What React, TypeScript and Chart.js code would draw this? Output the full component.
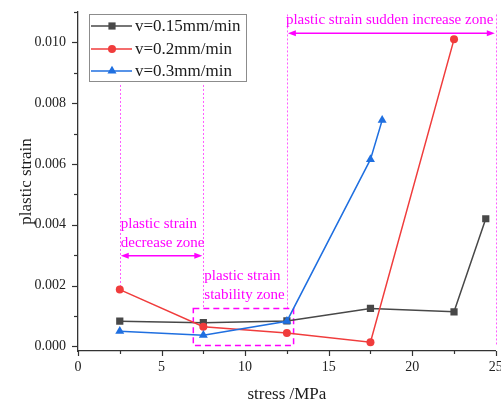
import React, { useEffect, useRef } from "react";
import { Chart, registerables } from "chart.js";

Chart.register(...registerables);

// ---- data ----
const stress015 = [2.5, 7.5, 12.5, 17.5, 22.5, 24.4];
const strain015 = [0.00083, 0.00078, 0.00084, 0.00125, 0.00114, 0.0042];
const stress02 = [2.5, 7.5, 12.5, 17.5, 22.5];
const strain02 = [0.00187, 0.00065, 0.00044, 0.00014, 0.0101];
const stress03 = [2.5, 7.5, 12.5, 17.5, 18.2];
const strain03 = [0.0005, 0.00037, 0.00083, 0.00615, 0.00744];
const seriesLabels = ["v=0.15mm/min", "v=0.2mm/min", "v=0.3mm/min"];
const xAxisTitle = "stress /MPa";
const yAxisTitle = "plastic strain";
const zoneBounds = [2.5, 7.5, 12.5, 25];
const zoneDecreaseLabel = ["plastic strain", "decrease zone"];
const zoneStabilityLabel = ["plastic strain", "stability zone"];
const zoneIncreaseLabel = "plastic strain sudden increase zone";
const stabilityBox = { x0: 6.9, x1: 12.9, y0: 0.00003, y1: 0.00125 };

const SERIF = "'Liberation Serif', 'Times New Roman', serif";
const COLORS = ["#484848", "#f03c3c", "#1f6fe0"];
const SHAPES = ["rect", "circle", "triangle"];
const MAGENTA = "#ff00ff";
const DOTTED = "#ff5cff";

function toXY(xs: number[], ys: number[]) {
  return xs.map((x, i) => ({ x, y: ys[i] }));
}

function drawMarker(ctx: CanvasRenderingContext2D, shape: string, x: number, y: number, color: string) {
  ctx.save();
  ctx.fillStyle = color;
  ctx.beginPath();
  if (shape === "rect") {
    const s = 3.6;
    ctx.rect(x - s, y - s, 2 * s, 2 * s);
  } else if (shape === "circle") {
    ctx.arc(x, y, 4, 0, Math.PI * 2);
  } else {
    const r = 5.2;
    ctx.moveTo(x, y - r);
    ctx.lineTo(x + r * 0.866, y + r * 0.5);
    ctx.lineTo(x - r * 0.866, y + r * 0.5);
    ctx.closePath();
  }
  ctx.fill();
  ctx.restore();
}

function arrowHead(ctx: CanvasRenderingContext2D, x: number, y: number, dir: number) {
  ctx.beginPath();
  ctx.moveTo(x, y);
  ctx.lineTo(x - dir * 8, y - 3);
  ctx.lineTo(x - dir * 8, y + 3);
  ctx.closePath();
  ctx.fill();
}

const annotationPlugin = {
  id: "zones",
  beforeDatasetsDraw(chart: any) {
    const { ctx, scales } = chart;
    const xs = scales.x;
    const ys = scales.y;
    const px = (v: number) => xs.getPixelForValue(v);
    const py = (v: number) => ys.getPixelForValue(v);
    ctx.save();
    // dotted zone boundaries
    ctx.strokeStyle = DOTTED;
    ctx.lineWidth = 1;
    ctx.setLineDash([2, 2]);
    const spans = [
      [0.0086, 0.0019],
      [0.0086, 0.00125],
      [0.01092, 0.00125],
      [0.01092, 0],
    ];
    zoneBounds.forEach((b, i) => {
      const x = Math.round(px(b)) + 0.5;
      ctx.beginPath();
      ctx.moveTo(x, py(spans[i][0]));
      ctx.lineTo(x, py(spans[i][1]));
      ctx.stroke();
    });
    // stability dashed box
    ctx.strokeStyle = MAGENTA;
    ctx.lineWidth = 1.5;
    ctx.setLineDash([6, 4]);
    ctx.strokeRect(
      px(stabilityBox.x0),
      py(stabilityBox.y1),
      px(stabilityBox.x1) - px(stabilityBox.x0),
      py(stabilityBox.y0) - py(stabilityBox.y1)
    );
    ctx.setLineDash([]);
    // arrows
    ctx.fillStyle = MAGENTA;
    ctx.strokeStyle = MAGENTA;
    ctx.lineWidth = 1.5;
    const drawDouble = (a: number, b: number, yv: number) => {
      const y = py(yv);
      const xa = px(a) + 1;
      const xb = px(b) - 1;
      ctx.beginPath();
      ctx.moveTo(xa + 4, y);
      ctx.lineTo(xb - 4, y);
      ctx.stroke();
      arrowHead(ctx, xa, y, -1);
      arrowHead(ctx, xb, y, 1);
    };
    drawDouble(zoneBounds[2], zoneBounds[3], 0.0103);
    drawDouble(zoneBounds[0], zoneBounds[1], 0.00298);
    // texts
    ctx.font = `15px ${SERIF}`;
    ctx.textAlign = "left";
    ctx.textBaseline = "alphabetic";
    ctx.fillText(zoneIncreaseLabel, px(zoneBounds[2]) - 1, py(0.01059));
    ctx.fillText(zoneDecreaseLabel[0], px(zoneBounds[0]) + 1, py(0.00389));
    ctx.fillText(zoneDecreaseLabel[1], px(zoneBounds[0]) + 1, py(0.00326));
    ctx.fillText(zoneStabilityLabel[0], px(zoneBounds[1]) + 1, py(0.0022));
    ctx.fillText(zoneStabilityLabel[1], px(zoneBounds[1]) + 1, py(0.00157));
    ctx.restore();
  },
  afterDraw(chart: any) {
    const { ctx, scales } = chart;
    const xs = scales.x;
    const ys = scales.y;
    ctx.save();
    ctx.strokeStyle = "#333";
    ctx.lineWidth = 1.2;
    // x tick marks
    const xb = chart.chartArea.bottom;
    xs.ticks.forEach((t: any) => {
      const major = Math.abs(t.value / 5 - Math.round(t.value / 5)) < 1e-6;
      const x = Math.round(xs.getPixelForValue(t.value)) + 0.5;
      ctx.beginPath();
      ctx.moveTo(x, xb);
      ctx.lineTo(x, xb + (major ? 5 : 3));
      ctx.stroke();
    });
    const yl = chart.chartArea.left;
    ys.ticks.forEach((t: any) => {
      const major = Math.abs(t.value / 0.002 - Math.round(t.value / 0.002)) < 1e-6;
      const y = Math.round(ys.getPixelForValue(t.value)) + 0.5;
      ctx.beginPath();
      ctx.moveTo(yl, y);
      ctx.lineTo(yl - (major ? 6 : 4), y);
      ctx.stroke();
    });
    // legend
    const bx = 89.5, by = 14.5, bw = 157, bh = 67;
    ctx.fillStyle = "#fff";
    ctx.fillRect(bx, by, bw, bh);
    ctx.strokeStyle = "#8c8c8c";
    ctx.lineWidth = 1;
    ctx.strokeRect(bx, by, bw, bh);
    const rows = [26, 49, 71];
    seriesLabels.forEach((lab, i) => {
      const y = rows[i];
      ctx.strokeStyle = COLORS[i];
      ctx.lineWidth = 1.5;
      ctx.beginPath();
      ctx.moveTo(91, y);
      ctx.lineTo(132, y);
      ctx.stroke();
      drawMarker(ctx, SHAPES[i], 112, y, COLORS[i]);
      ctx.fillStyle = "#1a1a1a";
      ctx.font = `17px ${SERIF}`;
      ctx.textAlign = "left";
      ctx.textBaseline = "middle";
      ctx.fillText(lab, 135, y + 1);
    });
    ctx.restore();
  },
};

export default function App() {
  const ref = useRef<HTMLCanvasElement | null>(null);
  useEffect(() => {
    if (!ref.current) return;
    const mk = (i: number, xs: number[], ys: number[], order: number, radius: number) => ({
      label: seriesLabels[i],
      data: toXY(xs, ys),
      borderColor: COLORS[i],
      backgroundColor: COLORS[i],
      pointBackgroundColor: COLORS[i],
      pointBorderColor: COLORS[i],
      pointStyle: SHAPES[i],
      pointRadius: radius,
      pointBorderWidth: 0,
      borderWidth: 1.5,
      tension: 0,
      showLine: true,
      order,
    });
    const chart = new Chart(ref.current, {
      type: "scatter",
      data: {
        datasets: [
          mk(0, stress015, strain015, 3, 5.1),
          mk(1, stress02, strain02, 2, 4),
          mk(2, stress03, strain03, 1, 5.2),
        ],
      },
      plugins: [annotationPlugin],
      options: {
        animation: false,
        responsive: false,
        devicePixelRatio: 1,
        layout: { padding: { left: 0, right: 3, top: 12, bottom: 0 } },
        plugins: { legend: { display: false }, tooltip: { enabled: false } },
        scales: {
          x: {
            type: "linear",
            min: 0,
            max: 25,
            afterFit(s: any) {
              s.height = 54;
              s.paddingLeft = 0;
              s.paddingRight = 0;
            },
            ticks: {
              stepSize: 2.5,
              autoSkip: false,
              maxRotation: 0,
              includeBounds: false,
              padding: 3,
              color: "#222",
              font: { family: SERIF, size: 14 },
              callback: (v: any) => {
                const n = Number(v);
                return Math.abs(n / 5 - Math.round(n / 5)) < 1e-6 ? String(Math.round(n)) : "";
              },
            },
            grid: { display: true, drawOnChartArea: false, drawTicks: true, tickLength: 5, color: "rgba(0,0,0,0)" },
            border: { display: true, color: "#333", width: 1.3 },
            title: {
              display: true,
              text: xAxisTitle,
              color: "#1a1a1a",
              font: { family: SERIF, size: 17 },
              padding: { top: 0, bottom: 0 },
            },
          },
          y: {
            type: "linear",
            min: -0.00015,
            max: 0.011,
            afterFit(s: any) {
              s.width = 78;
              s.paddingTop = 0;
              s.paddingBottom = 0;
            },
            ticks: {
              stepSize: 0.001,
              autoSkip: false,
              includeBounds: false,
              padding: 6,
              color: "#222",
              font: { family: SERIF, size: 14 },
              callback: (v: any) => {
                const n = Number(v);
                const k = n / 0.002;
                return Math.abs(k - Math.round(k)) < 1e-6 && n > -1e-9 ? n.toFixed(3) : "";
              },
            },
            grid: { display: true, drawOnChartArea: false, drawTicks: true, tickLength: 6, color: "rgba(0,0,0,0)" },
            border: { display: true, color: "#333", width: 1.3 },
            title: {
              display: true,
              text: yAxisTitle,
              color: "#1a1a1a",
              font: { family: SERIF, size: 17 },
              padding: { top: 16, bottom: 0 },
            },
          },
        },
      },
    });
    return () => chart.destroy();
  }, []);
  return (
    <div style={{ position: "fixed", left: 0, top: 0, width: 501, height: 405, overflow: "hidden", background: "#fff" }}>
      <canvas ref={ref} width={501} height={405} style={{ display: "block", width: 501, height: 405 }} />
    </div>
  );
}
